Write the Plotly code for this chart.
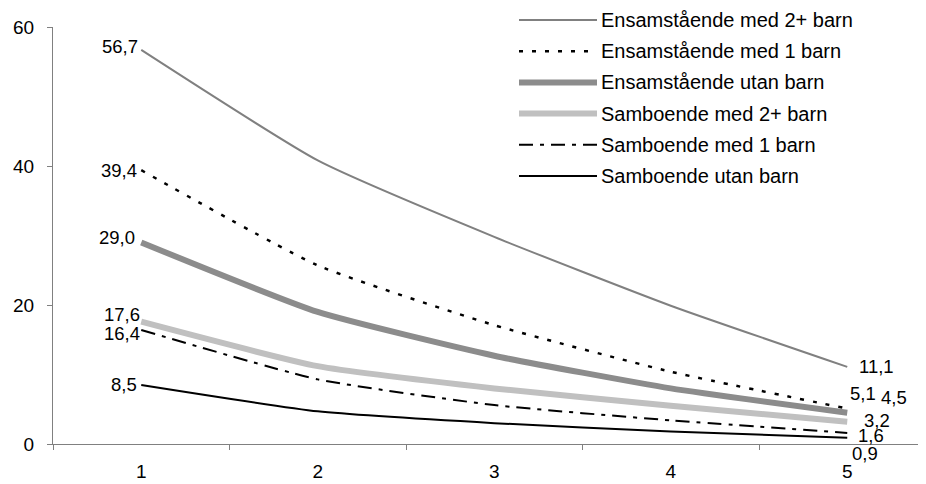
import plotly.graph_objects as go

categories = ["1", "2", "3", "4", "5"]

series_names = [
    "Ensamstående med 2+ barn",
    "Ensamstående med 1 barn",
    "Ensamstående utan barn",
    "Samboende med 2+ barn",
    "Samboende med 1 barn",
    "Samboende utan barn",
]
ens_2plus = [56.7, 40.8, 29.8, 19.9, 11.1]
ens_1 = [39.4, 25.7, 17.1, 10.4, 5.1]
ens_utan = [29.0, 19.0, 12.7, 8.0, 4.5]
samb_2plus = [17.6, 11.2, 8.0, 5.5, 3.2]
samb_1 = [16.4, 9.3, 5.6, 3.4, 1.6]
samb_utan = [8.5, 4.7, 3.0, 1.8, 0.9]
series_values = [ens_2plus, ens_1, ens_utan, samb_2plus, samb_1, samb_utan]

y_ticks = [0, 20, 40, 60]

# styles: (color, width, dash)
styles = [
    ("#808080", 2, "solid"),
    ("#000000", 2.5, "4px,9px"),
    ("#8c8c8c", 6, "solid"),
    ("#c0c0c0", 6, "solid"),
    ("#000000", 2, "14px,7px,4px,7px"),
    ("#000000", 2, "solid"),
]
# label offsets in pixels (xshift, yshift) for first and last point
first_off = [(-1, 3), (-2, 0), (-4, 5), (1, 7), (1, -3), (-2, 0)]
last_off = [(10, 0), (1, 15), (32, 15), (15, 1), (9, -3), (3, -16)]

FONT = "Liberation Sans, Arial, sans-serif"
FS_TICK = 19
FS_LABEL = 18.5
FS_LEG = 20
BODY = 8  # default page margin around the plot div
VW, VH = 926, 484
W, H = VW - BODY, VH - BODY
ML, MT = 53 - BODY, 27 - BODY
MR = 0
MB = H - (444 - BODY)
PW, PH = W - ML - MR, H - MT - MB

def fmt(v):
    return f"{v:.1f}".replace(".", ",")

def px_x(px):
    return (px - BODY - ML) / PW

def px_y(py):
    return (H - MB - (py - BODY)) / PH

fig = go.Figure()
annotations = []
shapes = []
n = len(categories)
for i, (name, vals) in enumerate(zip(series_names, series_values)):
    color, width, dash = styles[i]
    fig.add_trace(go.Scatter(
        x=categories, y=vals, mode="lines", name=name,
        line=dict(color=color, width=width, dash=dash, shape="spline", smoothing=0.5),
        showlegend=False, hoverinfo="x+y+name",
    ))
    annotations.append(dict(
        x=0, y=vals[0], xref="x", yref="y", text=fmt(vals[0]),
        showarrow=False, xanchor="right", yanchor="middle",
        xshift=first_off[i][0], yshift=first_off[i][1],
        font=dict(family=FONT, size=FS_LABEL, color="#000"),
    ))
    annotations.append(dict(
        x=n - 1, y=vals[-1], xref="x", yref="y", text=fmt(vals[-1]),
        showarrow=False, xanchor="left", yanchor="middle",
        xshift=last_off[i][0], yshift=last_off[i][1],
        font=dict(family=FONT, size=FS_LABEL, color="#000"),
    ))
    # custom legend entry
    row_y = 20 + i * 31.2
    shapes.append(dict(
        type="line", xref="paper", yref="paper",
        x0=px_x(519), x1=px_x(597), y0=px_y(row_y), y1=px_y(row_y),
        line=dict(color=color, width=width, dash=dash),
    ))
    annotations.append(dict(
        x=px_x(599), y=px_y(row_y), xref="paper", yref="paper", text=name,
        showarrow=False, xanchor="left", yanchor="middle",
        font=dict(family=FONT, size=FS_LEG, color="#000"),
    ))

fig.update_layout(
    width=W, height=H,
    margin=dict(l=ML, r=MR, t=MT, b=MB, autoexpand=False),
    paper_bgcolor="white", plot_bgcolor="white",
    font=dict(family=FONT, size=FS_TICK, color="#000"),
    showlegend=False,
    annotations=annotations,
    shapes=shapes,
    xaxis=dict(
        type="category", range=[-0.5, -0.5 + PW / 176.5], automargin=False,
        tickson="boundaries", ticks="outside", ticklen=5, tickcolor="#808080",
        showline=True, linecolor="#808080", linewidth=1,
        showgrid=False, zeroline=False, ticklabelstandoff=10,
        tickfont=dict(family=FONT, size=FS_TICK, color="#000"),
    ),
    yaxis=dict(
        range=[0, 60], tickvals=y_ticks, ticks="outside", ticklen=5, automargin=False,
        tickcolor="#808080", showline=True, linecolor="#808080", linewidth=1,
        showgrid=False, zeroline=False, ticklabelstandoff=9,
        tickfont=dict(family=FONT, size=FS_TICK, color="#000"),
    ),
)

fig.write_html("out.html")
